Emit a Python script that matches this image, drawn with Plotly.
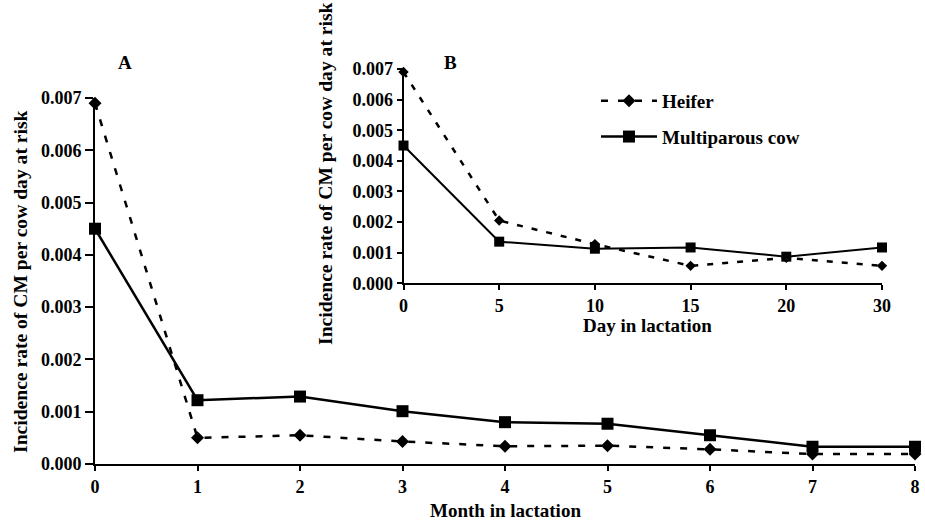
import plotly.graph_objects as go

# ---- data ----
months = [0, 1, 2, 3, 4, 5, 6, 7, 8]
heifer_month = [0.0069, 0.00050, 0.00055, 0.00043, 0.00034, 0.00035, 0.00028, 0.00019, 0.00019]
multi_month = [0.0045, 0.00122, 0.00129, 0.00101, 0.00080, 0.00077, 0.00055, 0.00033, 0.00033]

day_labels = ["0", "5", "10", "15", "20", "30"]
heifer_day = [0.0069, 0.00205, 0.00128, 0.00057, 0.00083, 0.00057]
multi_day = [0.0045, 0.00136, 0.00113, 0.00117, 0.00087, 0.00117]

y_ticks = [0.000, 0.001, 0.002, 0.003, 0.004, 0.005, 0.006, 0.007]
y_ticktext = ["0.000", "0.001", "0.002", "0.003", "0.004", "0.005", "0.006", "0.007"]

W, H = 925, 522
FONT = "Liberation Serif"
BFONT = dict(family=FONT, size=18, color="black", weight="bold")
TFONT = dict(family=FONT, size=19, color="black", weight="bold")
YFONT = dict(family=FONT, size=19.6, color="black", weight="bold")


def px_x(p):
    return p / W


def px_y(p):
    return 1 - p / H


fig = go.Figure()

# main panel
fig.add_trace(go.Scatter(
    x=months, y=heifer_month, name="Heifer", mode="lines+markers",
    line=dict(color="black", width=2.5, dash="7px,10px"),
    marker=dict(symbol="diamond", size=10, color="black"),
    cliponaxis=False, legendgroup="h", xaxis="x", yaxis="y"))
fig.add_trace(go.Scatter(
    x=months, y=multi_month, name="Multiparous cow", mode="lines+markers",
    line=dict(color="black", width=2.5),
    marker=dict(symbol="square", size=12, color="black"),
    cliponaxis=False, legendgroup="m", xaxis="x", yaxis="y"))

# inset panel
day_pos = list(range(len(day_labels)))
fig.add_trace(go.Scatter(
    x=day_pos, y=heifer_day, name="Heifer", mode="lines+markers", showlegend=False,
    line=dict(color="black", width=2.5, dash="6px,9px"),
    marker=dict(symbol="diamond", size=8, color="black"),
    cliponaxis=False, xaxis="x2", yaxis="y2"))
fig.add_trace(go.Scatter(
    x=day_pos, y=multi_day, name="Multiparous cow", mode="lines+markers", showlegend=False,
    line=dict(color="black", width=2),
    marker=dict(symbol="square", size=10, color="black"),
    cliponaxis=False, xaxis="x2", yaxis="y2"))

axis_common = dict(
    showgrid=False, zeroline=False, showline=True, linecolor="black", linewidth=2,
    ticks="outside", tickcolor="black", tickwidth=2, automargin=False,
    tickfont=BFONT,
)

fig.update_layout(
    template="none",
    width=W, height=H,
    margin=dict(l=0, r=0, t=0, b=0, pad=0),
    paper_bgcolor="white", plot_bgcolor="rgba(0,0,0,0)",
    font=BFONT,
    xaxis=dict(axis_common, domain=[px_x(95), px_x(915)], range=[0, 8],
               tickvals=months, ticklen=5, anchor="y"),
    yaxis=dict(axis_common, domain=[px_y(464), px_y(98)], range=[0, 0.007],
               tickvals=y_ticks, ticktext=y_ticktext, ticklen=8, anchor="x"),
    xaxis2=dict(axis_common, domain=[px_x(403.5), px_x(882)], range=[0, 5],
                tickvals=day_pos, ticktext=day_labels, ticklen=5, anchor="y2"),
    yaxis2=dict(axis_common, domain=[px_y(283.3), px_y(69)], range=[0, 0.007],
                tickvals=y_ticks, ticktext=y_ticktext, ticklen=5, anchor="x2"),
    showlegend=True,
    legend=dict(x=px_x(596), y=px_y(82), xanchor="left", yanchor="top",
                bgcolor="rgba(0,0,0,0)", itemwidth=56, tracegroupgap=8,
                traceorder="grouped", font=TFONT),
)

annots = [
    dict(text="A", x=px_x(125), y=px_y(62), font=TFONT),
    dict(text="B", x=px_x(450), y=px_y(62), font=TFONT),
    dict(text="Month in lactation", x=px_x(506), y=px_y(510), font=TFONT),
    dict(text="Day in lactation", x=px_x(647), y=px_y(325), font=TFONT),
    dict(text="Incidence rate of CM per cow day at risk", x=px_x(20), y=px_y(282),
         textangle=-90, font=YFONT),
    dict(text="Incidence rate of CM per cow day at risk", x=px_x(326), y=px_y(174),
         textangle=-90, font=YFONT),
]
for a in annots:
    fig.add_annotation(xref="paper", yref="paper", showarrow=False,
                       xanchor="center", yanchor="middle", **a)

fig.write_html("out.html", config={"displayModeBar": False, "staticPlot": True},
               post_script="document.body.style.margin='0';document.body.style.padding='0';")
